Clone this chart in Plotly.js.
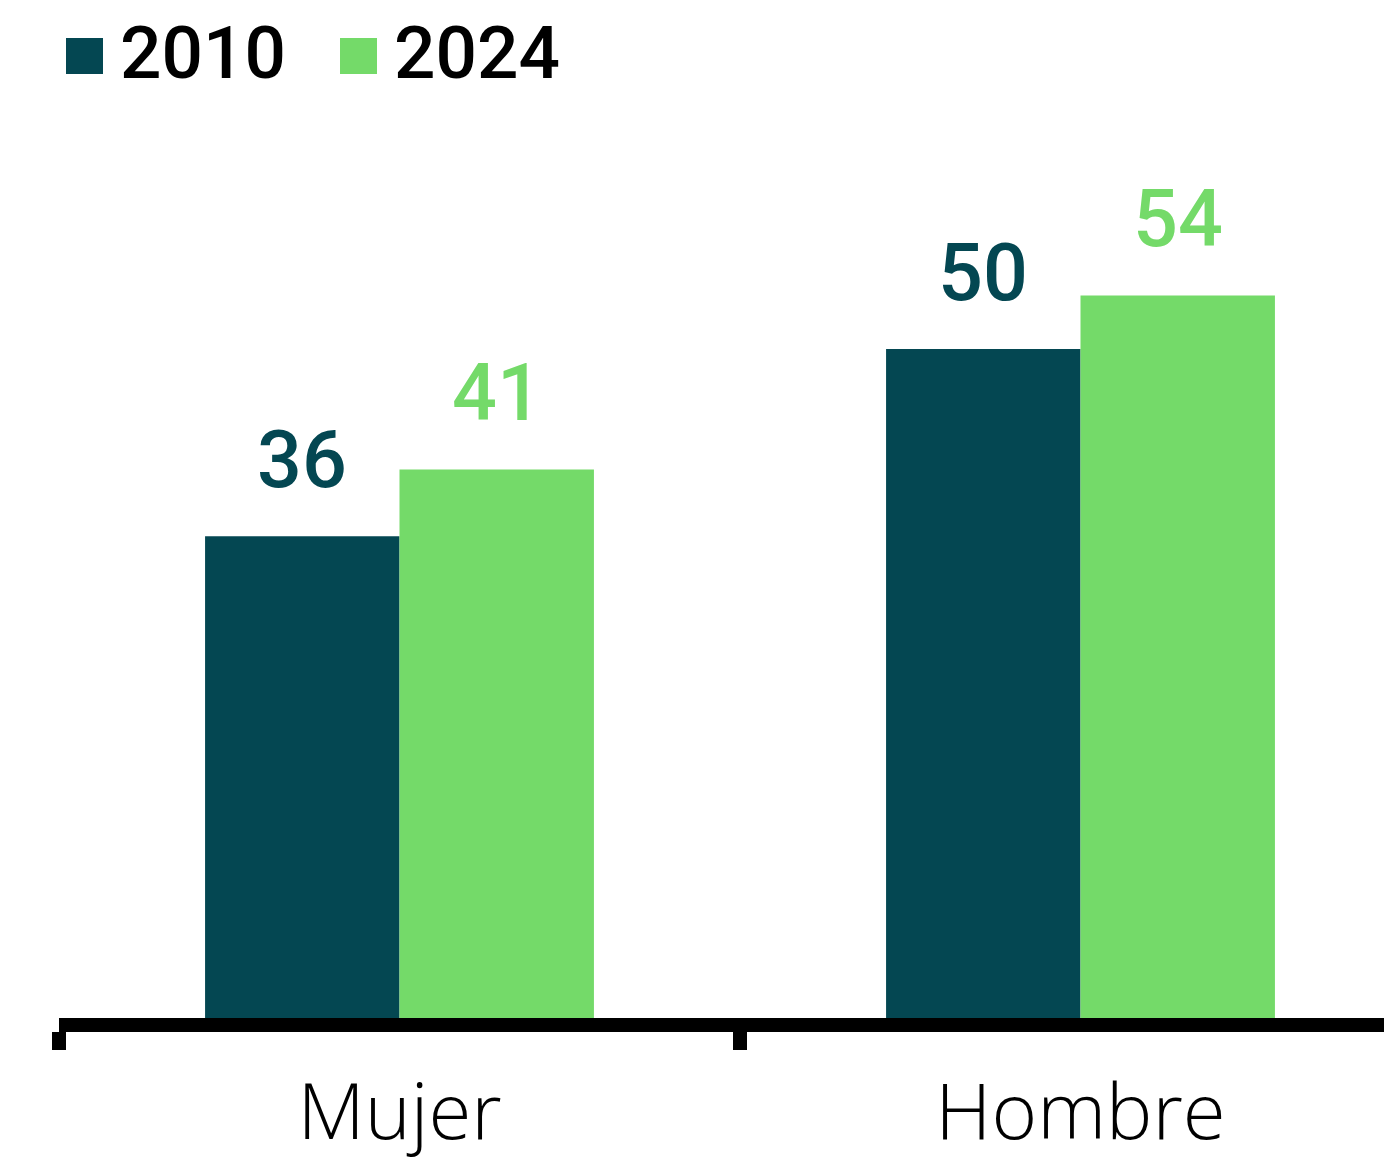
<!DOCTYPE html>
<html>
<head>
<meta charset="utf-8">
<script src="https://cdn.plot.ly/plotly-3.0.1.min.js"></script>
<style>
  html, body { margin: 0; padding: 0; background: #fff; }
  #chart { width: 1384px; height: 1157px; }
</style>
</head>
<body>
<div id="chart"></div>
<script>
var categories = ['Mujer', 'Hombre'];
var years = ['2010', '2024'];
var values2010 = [36, 50];
var values2024 = [41, 54];
var colors = ['#044752', '#74DA69'];

var W = 1384, H = 1157;
var margin = { l: 59, r: 0, t: 100, b: 139 };
var plotW = W - margin.l - margin.r;
var plotH = H - margin.t - margin.b;
var bargap = 0.429;
var barW = (1 - bargap) / 2;

// pixel -> paper helpers for the hand drawn legend
function px(x) { return (x - margin.l) / plotW; }
function py(y) { return (H - margin.b - y) / plotH; }

var series = [values2010, values2024];

var data = series.map((vals, i) => ({
    x: categories,
    y: vals,
    type: 'bar',
    name: years[i],
    marker: { color: colors[i], line: { width: 0 } },
    hoverinfo: 'x+y+name'
}));

var annotations = [];
series.forEach((vals, i) => {
    vals.forEach((v, j) => {
        annotations.push({
            x: j + (i - 0.5) * barW,
            y: v,
            xref: 'x',
            yref: 'y',
            text: String(v),
            showarrow: false,
            yanchor: 'bottom',
            yshift: 28,
            font: { family: 'Roboto, sans-serif', size: 79, weight: 500, color: colors[i] }
        });
    });
});

// legend: squares + text
var legendX = [66, 340];
var shapes = [];
years.forEach((yr, i) => {
    shapes.push({
        type: 'rect',
        xref: 'paper',
        yref: 'paper',
        x0: px(legendX[i]),
        x1: px(legendX[i] + 37),
        y0: py(74),
        y1: py(38),
        fillcolor: colors[i],
        line: { width: 0 }
    });
    annotations.push({
        xref: 'paper',
        yref: 'paper',
        x: px(legendX[i] + 52),
        y: py(53),
        xanchor: 'left',
        yanchor: 'middle',
        text: yr,
        showarrow: false,
        font: { family: 'Roboto, sans-serif', size: 73, weight: 500, color: '#000' }
    });
});

Plotly.newPlot('chart', data, {
    width: W,
    height: H,
    margin: margin,
    paper_bgcolor: '#fff',
    plot_bgcolor: '#fff',
    barmode: 'group',
    bargap: bargap,
    bargroupgap: 0,
    showlegend: false,
    xaxis: {
        type: 'category',
        range: [-0.5, -0.5 + plotW / 681],
        showline: true,
        linecolor: '#000',
        linewidth: 14,
        ticks: 'outside',
        tickson: 'boundaries',
        ticklen: 18,
        tickwidth: 14,
        tickcolor: '#000',
        ticklabelstandoff: 13,
        showgrid: false,
        zeroline: false,
        tickfont: { family: '"Open Sans", sans-serif', size: 78, weight: 300, color: '#000' }
    },
    yaxis: {
        range: [0, plotH / 13.38],
        visible: false,
        showgrid: false,
        zeroline: false
    },
    shapes: shapes,
    annotations: annotations
}, { displayModeBar: false, staticPlot: true });
</script>
</body>
</html>
